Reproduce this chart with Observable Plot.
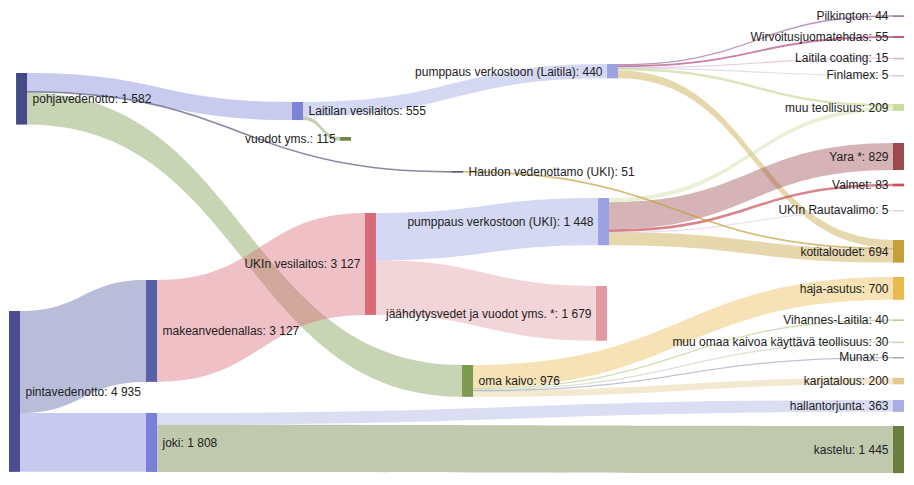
<!DOCTYPE html>
<html>
<head>
<meta charset="utf-8">
<script src="https://cdn.jsdelivr.net/npm/d3@7"></script>
<script src="https://cdn.jsdelivr.net/npm/@observablehq/plot@0.6"></script>
<style>
  html, body { margin: 0; padding: 0; background: #ffffff; }
  #chart svg { display: block; }
</style>
</head>
<body>
<div id="chart"></div>
<script>
// ---------------- DATA ----------------
const nodeNames = [
  "pohjavedenotto", "pintavedenotto",
  "makeanvedenallas", "joki",
  "Laitilan vesilaitos", "vuodot yms.", "Haudon vedenottamo (UKI)",
  "UKIn vesilaitos", "oma kaivo",
  "pumppaus verkostoon (Laitila)", "pumppaus verkostoon (UKI)",
  "jäähdytysvedet ja vuodot yms. *",
  "Pilkington", "Wirvoitusjuomatehdas", "Laitila coating", "Finlamex",
  "muu teollisuus", "Yara *", "Valmet", "UKIn Rautavalimo", "kotitaloudet",
  "haja-asutus", "Vihannes-Laitila", "muu omaa kaivoa käyttävä teollisuus",
  "Munax", "karjatalous", "hallantorjunta", "kastelu"
];

const linkSource = [
  "pohjavedenotto", "pohjavedenotto", "pohjavedenotto",
  "pintavedenotto", "pintavedenotto",
  "makeanvedenallas",
  "Laitilan vesilaitos", "Laitilan vesilaitos",
  "UKIn vesilaitos", "UKIn vesilaitos",
  "joki", "joki",
  "pumppaus verkostoon (Laitila)", "pumppaus verkostoon (Laitila)", "pumppaus verkostoon (Laitila)",
  "pumppaus verkostoon (Laitila)", "pumppaus verkostoon (Laitila)", "pumppaus verkostoon (Laitila)",
  "pumppaus verkostoon (UKI)", "pumppaus verkostoon (UKI)", "pumppaus verkostoon (UKI)",
  "pumppaus verkostoon (UKI)", "pumppaus verkostoon (UKI)",
  "Haudon vedenottamo (UKI)",
  "oma kaivo", "oma kaivo", "oma kaivo", "oma kaivo", "oma kaivo"
];
const linkTarget = [
  "Laitilan vesilaitos", "Haudon vedenottamo (UKI)", "oma kaivo",
  "makeanvedenallas", "joki",
  "UKIn vesilaitos",
  "pumppaus verkostoon (Laitila)", "vuodot yms.",
  "pumppaus verkostoon (UKI)", "jäähdytysvedet ja vuodot yms. *",
  "hallantorjunta", "kastelu",
  "Pilkington", "Wirvoitusjuomatehdas", "Laitila coating",
  "Finlamex", "muu teollisuus", "kotitaloudet",
  "muu teollisuus", "Yara *", "Valmet",
  "UKIn Rautavalimo", "kotitaloudet",
  "kotitaloudet",
  "haja-asutus", "Vihannes-Laitila", "muu omaa kaivoa käyttävä teollisuus", "Munax", "karjatalous"
];
const linkValue = [
  555, 51, 976,
  3127, 1808,
  3127,
  440, 115,
  1448, 1679,
  363, 1445,
  44, 55, 15,
  5, 81, 240,
  128, 829, 83,
  5, 403,
  51,
  700, 40, 30, 6, 200
];

// ---------------- STYLE ----------------
const nodeColor = {
  "pohjavedenotto": "#434a85", "pintavedenotto": "#4a4e8e",
  "makeanvedenallas": "#5961a6", "joki": "#7a7fd8",
  "Laitilan vesilaitos": "#7c84d6", "vuodot yms.": "#6d8a3e",
  "Haudon vedenottamo (UKI)": "#52577f",
  "UKIn vesilaitos": "#d96a78", "oma kaivo": "#7d9b4e",
  "pumppaus verkostoon (Laitila)": "#9ca3e0", "pumppaus verkostoon (UKI)": "#9ba1e3",
  "jäähdytysvedet ja vuodot yms. *": "#e19aa3",
  "Pilkington": "#9a6a9c", "Wirvoitusjuomatehdas": "#b4467c",
  "Laitila coating": "#d6b4d2", "Finlamex": "#d8cde0",
  "muu teollisuus": "#c9dc9c", "Yara *": "#9b4a50", "Valmet": "#c8505c",
  "UKIn Rautavalimo": "#e0d4e2", "kotitaloudet": "#c4a03c",
  "haja-asutus": "#e9bb4f", "Vihannes-Laitila": "#b6cf8e",
  "muu omaa kaivoa käyttävä teollisuus": "#c8d4bc",
  "Munax": "#a4a9bd", "karjatalous": "#e2c98f",
  "hallantorjunta": "#a9ade3", "kastelu": "#6a7f3f"
};

// ---------------- LAYOUT (column, top in flow units, label side) ----------------
const layout = {
  "pohjavedenotto": [0.048, 2240, "right"],
  "pintavedenotto": [0, 9542, "right"],
  "makeanvedenallas": [0.93, 8590, "right"],
  "joki": [0.93, 12671, "right"],
  "Laitilan vesilaitos": [1.921, 3129, "right"],
  "vuodot yms.": [2.247, 4203, "left"],
  "Haudon vedenottamo (UKI)": [3.007, 5246, "right"],
  "UKIn vesilaitos": [2.416, 6535, "left"],
  "oma kaivo": [3.075, 11198, "right"],
  "pumppaus verkostoon (Laitila)": [4.059, 1964, "left"],
  "pumppaus verkostoon (UKI)": [3.998, 6075, "left"],
  "jäähdytysvedet ja vuodot yms. *": [3.984, 8775, "left"],
  "Pilkington": [6, 469, "left"],
  "Wirvoitusjuomatehdas": [6, 1108, "left"],
  "Laitila coating": [6, 1772, "left"],
  "Finlamex": [6, 2299, "left"],
  "muu teollisuus": [6, 3191, "left"],
  "Yara *": [6, 4387, "left"],
  "Valmet": [6, 5635, "left"],
  "UKIn Rautavalimo": [6, 6441, "left"],
  "kotitaloudet": [6, 7363, "left"],
  "haja-asutus": [6, 8498, "left"],
  "Vihannes-Laitila": [6, 9799, "left"],
  "muu omaa kaivoa käyttävä teollisuus": [6, 10479, "left"],
  "Munax": [6, 10951, "left"],
  "karjatalous": [6, 11591, "left"],
  "hallantorjunta": [6, 12272, "left"],
  "kastelu": [6, 13070, "left"]
};

const W = 914, H = 485;
const X_RANGE = [9, 893];
const Y_MAX = 14880;
const kx = (X_RANGE[1] - X_RANGE[0]) / 6;   // px per column unit
const ky = H / Y_MAX;                        // px per flow unit
const NODE_W = 11 / kx;
const MIN_LINK = 1.2 / ky;
const MIN_NODE = 1.6 / ky;

// ---------------- BUILD SANKEY GEOMETRY ----------------
const nodes = nodeNames.map(name => ({
  name, color: nodeColor[name],
  col: layout[name][0], top: layout[name][1], side: layout[name][2],
  inV: 0, outV: 0
}));
const byName = new Map(nodes.map(n => [n.name, n]));
const links = linkSource.map((s, i) => ({
  id: i, source: byName.get(s), target: byName.get(linkTarget[i]), value: linkValue[i]
}));
for (const l of links) { l.source.outV += l.value; l.target.inV += l.value; }
for (const n of nodes) { n.value = Math.max(n.inV, n.outV); n.center = n.top + n.value / 2; }
for (const n of nodes) {
  let y = n.top;
  for (const l of links.filter(l => l.source === n).sort((a, b) => a.target.center - b.target.center)) {
    l.sy = y; y += l.value;
  }
  y = n.top;
  for (const l of links.filter(l => l.target === n).sort((a, b) => a.source.center - b.source.center)) {
    l.ty = y; y += l.value;
  }
}
const linkRows = links.flatMap(l => {
  const t = Math.max(l.value, MIN_LINK);
  const thin = l.value * ky < 3;
  return [
    {id: l.id, thin, x: l.source.col + NODE_W, y1: l.sy, y2: l.sy + t, color: l.target.color},
    {id: l.id, thin, x: l.target.col, y1: l.ty, y2: l.ty + t, color: l.target.color}
  ];
});

const fmt = v => d3.format(",")(v).replace(/,/g, " ");
const label = d => `${d.name}: ${fmt(d.value)}`;
const font = "'Liberation Sans', Arial, Helvetica, sans-serif";

const chart = Plot.plot({
  width: W, height: H,
  margin: 0,
  x: {domain: [0, 6], range: X_RANGE, axis: null},
  y: {domain: [0, Y_MAX], range: [0, H], axis: null},
  color: {type: "identity"},
  style: {fontFamily: font, background: "#ffffff"},
  marks: [
    Plot.area(linkRows.filter(d => !d.thin), {
      x1: "x", y1: "y1", y2: "y2", z: "id", fill: "color", fillOpacity: 0.42, curve: "bump-x"
    }),
    Plot.area(linkRows.filter(d => d.thin), {
      x1: "x", y1: "y1", y2: "y2", z: "id", fill: "color", fillOpacity: 0.7, curve: "bump-x"
    }),
    Plot.rect(nodes, {
      x1: "col", x2: d => d.col + NODE_W,
      y1: "top", y2: d => d.top + Math.max(d.value, MIN_NODE),
      fill: "color"
    }),
    Plot.text(nodes.filter(d => d.side === "right"), {
      x: d => d.col + NODE_W, y: "center", text: label,
      textAnchor: "start", dx: 5, fontSize: 12, fill: "#222222"
    }),
    Plot.text(nodes.filter(d => d.side === "left"), {
      x: "col", y: "center", text: label,
      textAnchor: "end", dx: -5, fontSize: 12, fill: "#222222"
    })
  ]
});
document.getElementById("chart").appendChild(chart);
</script>
</body>
</html>
